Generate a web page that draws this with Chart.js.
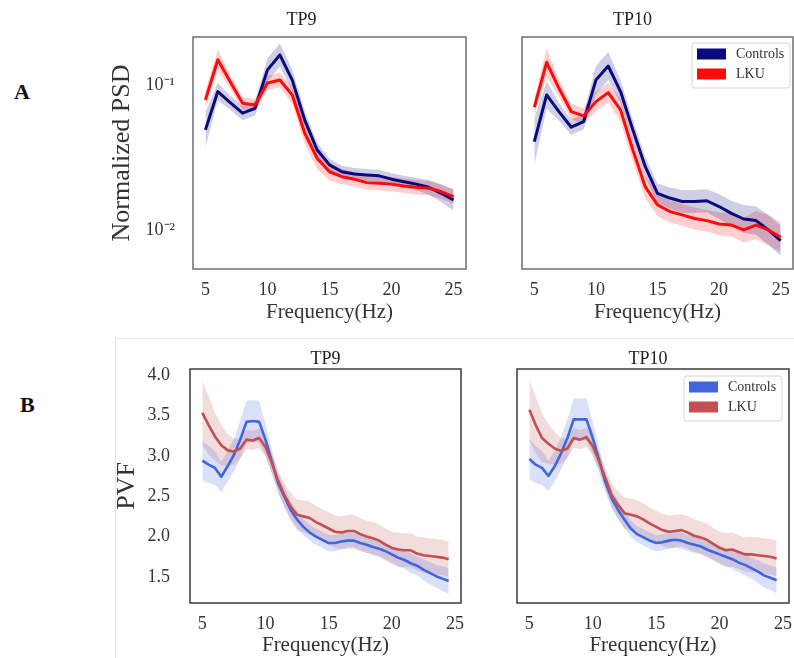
<!DOCTYPE html>
<html>
<head>
<meta charset="utf-8">
<script src="https://cdn.jsdelivr.net/npm/chart.js@4.4.1/dist/chart.umd.min.js"></script>
<style>
    body { margin: 0; background: #fff; }
    #figure { position: relative; width: 794px; height: 658px; overflow: hidden; background: #fff; }
    .panel { position: absolute; }
    .tag { position: absolute; font: bold 22px 'Liberation Serif', serif; line-height: 22px; color: #111; }
    #frameB { position: absolute; left: 115px; top: 338px; width: 679px; height: 320px;
              border-left: 1px solid #e6e6e6; border-top: 1px solid #e6e6e6; box-sizing: border-box; }
</style>
</head>
<body>
<div id="figure">
    <div id="frameB"></div>
    <div class="tag" style="left:14px; top:81px;">A</div>
    <div class="tag" style="left:20px; top:394px;">B</div>
</div>
<script>
// Normalized PSD (A) and PVF (B) for Controls vs LKU at TP9 / TP10
const freqA = [5, 6, 7, 8, 9, 10, 11, 12, 13, 14, 15, 16, 17, 18, 19, 20, 21, 22, 23, 24, 25];
const freqB = [5, 5.5, 6, 6.5, 7, 7.5, 8, 8.5, 9, 9.5, 10, 10.5, 11, 11.5, 12, 12.5, 13, 13.5, 14, 14.5,
    15, 15.5, 16, 16.5, 17, 17.5, 18, 18.5, 19, 19.5, 20, 20.5, 21, 21.5, 22, 22.5, 23, 23.5, 24, 24.5];

const xTicks = [5, 10, 15, 20, 25];
const psdTickValues = [0.01, 0.1];
const psdTickLabels = ['10\u207B\u00B2', '10\u207B\u00B9'];
const pvfTicks = [1.5, 2.0, 2.5, 3.0, 3.5, 4.0];

// A: mean PSD, band given as multiplicative spread
const psdCtrlTP9 = [0.049, 0.090, 0.0755, 0.0638, 0.069, 0.127, 0.161, 0.108, 0.0574, 0.0357, 0.0281,
    0.0252, 0.0243, 0.0239, 0.0236, 0.0224, 0.0215, 0.0207, 0.0197, 0.0179, 0.0161];
const psdLkuTP9 = [0.0788, 0.149, 0.105, 0.0748, 0.0728, 0.103, 0.108, 0.0853, 0.0465, 0.0312, 0.0252,
    0.0233, 0.0224, 0.0212, 0.0210, 0.0207, 0.0201, 0.0197, 0.0194, 0.0184, 0.0170];
const psdCtrlSpreadTP9 = [1.32, 1.15, 1.12, 1.12, 1.12, 1.2, 1.2, 1.18, 1.15, 1.12, 1.1,
    1.1, 1.1, 1.1, 1.1, 1.1, 1.1, 1.1, 1.12, 1.15, 1.18];
const psdLkuSpreadTP9 = [1.15, 1.17, 1.12, 1.1, 1.1, 1.12, 1.12, 1.15, 1.18, 1.18, 1.15,
    1.13, 1.12, 1.12, 1.12, 1.12, 1.12, 1.12, 1.12, 1.12, 1.12];

const psdCtrlTP10 = [0.0406, 0.0853, 0.0655, 0.0511, 0.0558, 0.108, 0.135, 0.090, 0.049, 0.0274, 0.0179,
    0.0166, 0.0157, 0.0157, 0.0159, 0.0145, 0.0130, 0.0119, 0.0116, 0.0100, 0.00843];
const psdLkuTP10 = [0.0702, 0.143, 0.0948, 0.0655, 0.0611, 0.0767, 0.0885, 0.0673, 0.0356, 0.0199, 0.0149,
    0.0134, 0.0127, 0.0120, 0.0116, 0.0110, 0.0108, 0.0100, 0.0108, 0.0100, 0.0089];
const psdCtrlSpreadTP10 = [1.45, 1.24, 1.15, 1.13, 1.13, 1.25, 1.25, 1.2, 1.17, 1.17, 1.17,
    1.18, 1.2, 1.2, 1.2, 1.22, 1.22, 1.25, 1.25, 1.27, 1.27];
const psdLkuSpreadTP10 = [1.13, 1.25, 1.15, 1.13, 1.13, 1.17, 1.17, 1.2, 1.2, 1.2, 1.2,
    1.19, 1.19, 1.19, 1.19, 1.2, 1.2, 1.22, 1.25, 1.27, 1.27];

// B: mean PVF, band given as +/- half width
const pvfCtrlTP9 = [2.94, 2.89, 2.85, 2.74, 2.87, 3.01, 3.20, 3.42, 3.43, 3.42, 3.20, 2.93, 2.66, 2.49, 2.33, 2.21, 2.12, 2.05, 2.00, 1.96,
    1.92, 1.92, 1.94, 1.95, 1.95, 1.92, 1.90, 1.87, 1.85, 1.82, 1.78, 1.74, 1.71, 1.67, 1.64, 1.59, 1.55, 1.51, 1.48, 1.45];
const pvfLkuTP9 = [3.53, 3.38, 3.24, 3.13, 3.07, 3.05, 3.09, 3.20, 3.19, 3.22, 3.11, 2.91, 2.69, 2.51, 2.37, 2.27, 2.25, 2.23, 2.18, 2.14,
    2.10, 2.06, 2.05, 2.07, 2.07, 2.03, 2.00, 1.98, 1.95, 1.90, 1.86, 1.84, 1.83, 1.83, 1.79, 1.77, 1.76, 1.75, 1.74, 1.72];
const pvfCtrlBandTP9 = [0.24, 0.23, 0.21, 0.19, 0.19, 0.2, 0.23, 0.26, 0.26, 0.26, 0.2, 0.15, 0.12, 0.12, 0.11, 0.11, 0.1, 0.1, 0.1, 0.1,
    0.1, 0.1, 0.1, 0.1, 0.1, 0.1, 0.1, 0.1, 0.1, 0.1, 0.1, 0.11, 0.11, 0.12, 0.12, 0.13, 0.14, 0.14, 0.15, 0.16];
const pvfLkuBandTP9 = [0.40, 0.36, 0.3, 0.25, 0.2, 0.16, 0.13, 0.12, 0.12, 0.12, 0.12, 0.12, 0.13, 0.15, 0.17, 0.19, 0.2, 0.2, 0.2, 0.2,
    0.2, 0.2, 0.2, 0.2, 0.2, 0.2, 0.2, 0.2, 0.2, 0.2, 0.2, 0.21, 0.21, 0.21, 0.21, 0.22, 0.22, 0.22, 0.22, 0.22];

const pvfCtrlTP10 = [2.96, 2.89, 2.85, 2.75, 2.87, 3.03, 3.22, 3.45, 3.45, 3.45, 3.22, 2.95, 2.67, 2.47, 2.33, 2.21, 2.10, 2.03, 1.99, 1.95,
    1.92, 1.93, 1.95, 1.96, 1.95, 1.92, 1.90, 1.88, 1.84, 1.81, 1.78, 1.75, 1.72, 1.68, 1.65, 1.61, 1.57, 1.52, 1.49, 1.46];
const pvfLkuTP10 = [3.57, 3.38, 3.22, 3.15, 3.09, 3.06, 3.09, 3.22, 3.20, 3.23, 3.12, 2.93, 2.72, 2.51, 2.39, 2.29, 2.27, 2.25, 2.21, 2.16,
    2.12, 2.08, 2.06, 2.07, 2.08, 2.05, 2.01, 1.99, 1.96, 1.91, 1.86, 1.83, 1.84, 1.81, 1.78, 1.78, 1.77, 1.76, 1.75, 1.73];
const pvfCtrlBandTP10 = [0.25, 0.23, 0.21, 0.19, 0.19, 0.2, 0.23, 0.26, 0.26, 0.26, 0.2, 0.15, 0.12, 0.12, 0.11, 0.11, 0.1, 0.1, 0.1, 0.1,
    0.1, 0.1, 0.1, 0.1, 0.1, 0.1, 0.1, 0.1, 0.1, 0.1, 0.11, 0.11, 0.12, 0.12, 0.13, 0.13, 0.14, 0.15, 0.15, 0.16];
const pvfLkuBandTP10 = [0.38, 0.35, 0.3, 0.25, 0.2, 0.16, 0.13, 0.12, 0.12, 0.12, 0.12, 0.12, 0.13, 0.15, 0.17, 0.19, 0.2, 0.2, 0.2, 0.2,
    0.2, 0.2, 0.2, 0.2, 0.2, 0.2, 0.2, 0.2, 0.2, 0.2, 0.2, 0.21, 0.21, 0.21, 0.21, 0.22, 0.22, 0.22, 0.22, 0.22];

const SERIF = "'Liberation Serif', 'Times New Roman', serif";
const TEXT = '#333';

// frame around the axes + panel title
const panelFrame = {
    id: 'panelFrame',
    afterDraw: function (chart, args, opts) {
        const ctx = chart.ctx;
        const a = chart.chartArea;
        ctx.save();
        ctx.strokeStyle = opts.color;
        ctx.lineWidth = 1.5;
        ctx.strokeRect(a.left, a.top, a.right - a.left, a.bottom - a.top);
        ctx.fillStyle = '#222';
        ctx.font = '18px ' + SERIF;
        ctx.textAlign = 'center';
        ctx.textBaseline = 'middle';
        ctx.fillText(opts.title, (a.left + a.right) / 2 + opts.titleDx, a.top - opts.titleDy);
        ctx.restore();
    }
};

// matplotlib-like legend box in the upper right corner
const panelLegend = {
    id: 'panelLegend',
    afterDraw: function (chart, args, opts) {
        if (!opts.items) return;
        const ctx = chart.ctx;
        const a = chart.chartArea;
        const w = 98, h = 45;
        const x0 = a.right - opts.right - w;
        const y0 = a.top + opts.top;
        ctx.save();
        ctx.fillStyle = 'rgba(255,255,255,0.85)';
        ctx.strokeStyle = '#d6d6d6';
        ctx.lineWidth = 1;
        ctx.beginPath();
        ctx.roundRect(x0, y0, w, h, 3);
        ctx.fill();
        ctx.stroke();
        ctx.font = '14px ' + SERIF;
        ctx.textAlign = 'left';
        ctx.textBaseline = 'middle';
        opts.items.forEach(function (item, i) {
            const ry = y0 + 5.5 + i * 20;
            ctx.fillStyle = item.color;
            ctx.fillRect(x0 + 5, ry, 29, 11);
            ctx.fillStyle = TEXT;
            ctx.fillText(item.text, x0 + 44, ry + 6);
        });
        ctx.restore();
    }
};

function seriesSets(freq, mean, band, logBand, color, fillColor, lineWidth, label, order) {
    const lower = mean.map(function (m, i) { return logBand ? m / band[i] : m - band[i]; });
    const upper = mean.map(function (m, i) { return logBand ? m * band[i] : m + band[i]; });
    const pts = function (arr) { return arr.map(function (v, i) { return { x: freq[i], y: v }; }); };
    const hidden = 'rgba(0,0,0,0)';
    return [
        { label: label + ' low', data: pts(lower), borderColor: hidden, borderWidth: 1, pointRadius: 0, fill: false, order: 3 },
        { label: label + ' high', data: pts(upper), borderColor: hidden, borderWidth: 1, pointRadius: 0,
          fill: '-1', backgroundColor: fillColor, order: 3 },
        { label: label, data: pts(mean), borderColor: color, borderWidth: lineWidth, pointRadius: 0,
          fill: false, tension: 0, borderJoinStyle: 'round', order: order }
    ];
}

function makePanel(cfg) {
    const holder = document.createElement('div');
    holder.className = 'panel';
    holder.style.left = cfg.left + 'px';
    holder.style.top = cfg.top + 'px';
    holder.style.width = cfg.width + 'px';
    holder.style.height = cfg.height + 'px';
    document.getElementById('figure').appendChild(holder);
    const canvas = document.createElement('canvas');
    holder.appendChild(canvas);

    const yScale = cfg.log ? {
        type: 'logarithmic',
        min: 0.00538,
        max: 0.214,
        afterBuildTicks: function (s) { s.ticks = psdTickValues.map(function (v) { return { value: v }; }); },
        ticks: {
            display: cfg.showY,
            padding: 10,
            color: TEXT,
            font: { family: SERIF, size: 18 },
            callback: function (value, index) { return psdTickLabels[index]; }
        }
    } : {
        type: 'linear',
        min: 1.178,
        max: 4.074,
        afterBuildTicks: function (s) { s.ticks = pvfTicks.map(function (v) { return { value: v }; }); },
        ticks: {
            display: cfg.showY,
            padding: 12,
            color: TEXT,
            font: { family: SERIF, size: 18 },
            callback: function (value) { return value.toFixed(1); }
        }
    };
    yScale.grid = { display: false };
    yScale.border = { display: false };
    yScale.afterFit = function (s) { s.width = cfg.yWidth; };
    yScale.title = {
        display: !!cfg.yTitle,
        text: cfg.yTitle || '',
        color: TEXT,
        font: { family: SERIF, size: 26 },
        padding: { top: cfg.yTitlePad, bottom: 0 }
    };

    new Chart(canvas, {
        type: 'line',
        data: { datasets: cfg.datasets },
        options: {
            responsive: true,
            maintainAspectRatio: false,
            animation: false,
            layout: { padding: { top: cfg.padTop, right: cfg.padRight, left: 0, bottom: 0 } },
            plugins: {
                legend: { display: false },
                tooltip: { enabled: false },
                panelFrame: { title: cfg.title, titleDx: cfg.titleDx, titleDy: cfg.titleDy, color: cfg.frameColor },
                panelLegend: { items: cfg.legend, right: cfg.legendRight, top: cfg.legendTop }
            },
            scales: {
                x: {
                    type: 'linear',
                    min: cfg.xMin,
                    max: cfg.xMax,
                    grid: { display: false },
                    border: { display: false },
                    afterBuildTicks: function (s) { s.ticks = xTicks.map(function (v) { return { value: v }; }); },
                    afterFit: function (s) { s.height = cfg.xHeight; },
                    ticks: {
                        autoSkip: false,
                        maxRotation: 0,
                        padding: 2,
                        color: TEXT,
                        font: { family: SERIF, size: 18 }
                    },
                    title: {
                        display: true,
                        text: 'Frequency(Hz)',
                        color: TEXT,
                        font: { family: SERIF, size: 21 },
                        padding: { top: 0, bottom: cfg.xTitlePad }
                    }
                },
                y: yScale
            }
        },
        plugins: [panelFrame, panelLegend]
    });
}

document.addEventListener('DOMContentLoaded', function () {
    const navy = '#0a0a7e', navyFill = 'rgba(10, 10, 126, 0.2)';
    const red = '#ff0a0a', redFill = 'rgba(255, 10, 10, 0.2)';
    const blue = '#3f66dd', blueFill = 'rgba(63, 102, 221, 0.2)';
    const brick = '#c44e52', brickFill = 'rgba(196, 78, 82, 0.2)';

    // A - TP9
    makePanel({
        left: 100, top: 0, width: 380, height: 326,
        padTop: 37, padRight: 14, yWidth: 93, xHeight: 57, xTitlePad: 1,
        xMin: 4, xMax: 26, log: true, showY: true,
        yTitle: 'Normalized PSD', yTitlePad: 7,
        title: 'TP9', titleDx: -28, titleDy: 17, frameColor: '#6e6e6e',
        datasets: seriesSets(freqA, psdCtrlTP9, psdCtrlSpreadTP9, true, navy, navyFill, 3, 'Controls', 2)
            .concat(seriesSets(freqA, psdLkuTP9, psdLkuSpreadTP9, true, red, redFill, 3, 'LKU', 1))
    });

    // A - TP10
    makePanel({
        left: 490, top: 0, width: 304, height: 326,
        padTop: 37, padRight: 1, yWidth: 32, xHeight: 57, xTitlePad: 1,
        xMin: 4, xMax: 26, log: true, showY: false,
        title: 'TP10', titleDx: -25, titleDy: 17, frameColor: '#6e6e6e',
        legend: [{ text: 'Controls', color: navy }, { text: 'LKU', color: red }], legendRight: 3, legendTop: 6,
        datasets: seriesSets(freqA, psdCtrlTP10, psdCtrlSpreadTP10, true, navy, navyFill, 3, 'Controls', 2)
            .concat(seriesSets(freqA, psdLkuTP10, psdLkuSpreadTP10, true, red, redFill, 3, 'LKU', 1))
    });

    // B - TP9
    makePanel({
        left: 100, top: 340, width: 375, height: 318,
        padTop: 29, padRight: 14, yWidth: 90, xHeight: 55, xTitlePad: 0,
        xMin: 4.025, xMax: 25.475, log: false, showY: true,
        yTitle: 'PVF', yTitlePad: 12,
        title: 'TP9', titleDx: 0, titleDy: 10, frameColor: '#3a3a3a',
        datasets: seriesSets(freqB, pvfCtrlTP9, pvfCtrlBandTP9, false, blue, blueFill, 2.6, 'Controls', 2)
            .concat(seriesSets(freqB, pvfLkuTP9, pvfLkuBandTP9, false, brick, brickFill, 2.6, 'LKU', 1))
    });

    // B - TP10
    makePanel({
        left: 480, top: 340, width: 314, height: 318,
        padTop: 29, padRight: 2, yWidth: 37, xHeight: 55, xTitlePad: 0,
        xMin: 4.025, xMax: 25.475, log: false, showY: false,
        title: 'TP10', titleDx: -5, titleDy: 10, frameColor: '#3a3a3a',
        legend: [{ text: 'Controls', color: blue }, { text: 'LKU', color: brick }], legendRight: 7, legendTop: 7,
        datasets: seriesSets(freqB, pvfCtrlTP10, pvfCtrlBandTP10, false, blue, blueFill, 2.6, 'Controls', 2)
            .concat(seriesSets(freqB, pvfLkuTP10, pvfLkuBandTP10, false, brick, brickFill, 2.6, 'LKU', 1))
    });
});
</script>
</body>
</html>
